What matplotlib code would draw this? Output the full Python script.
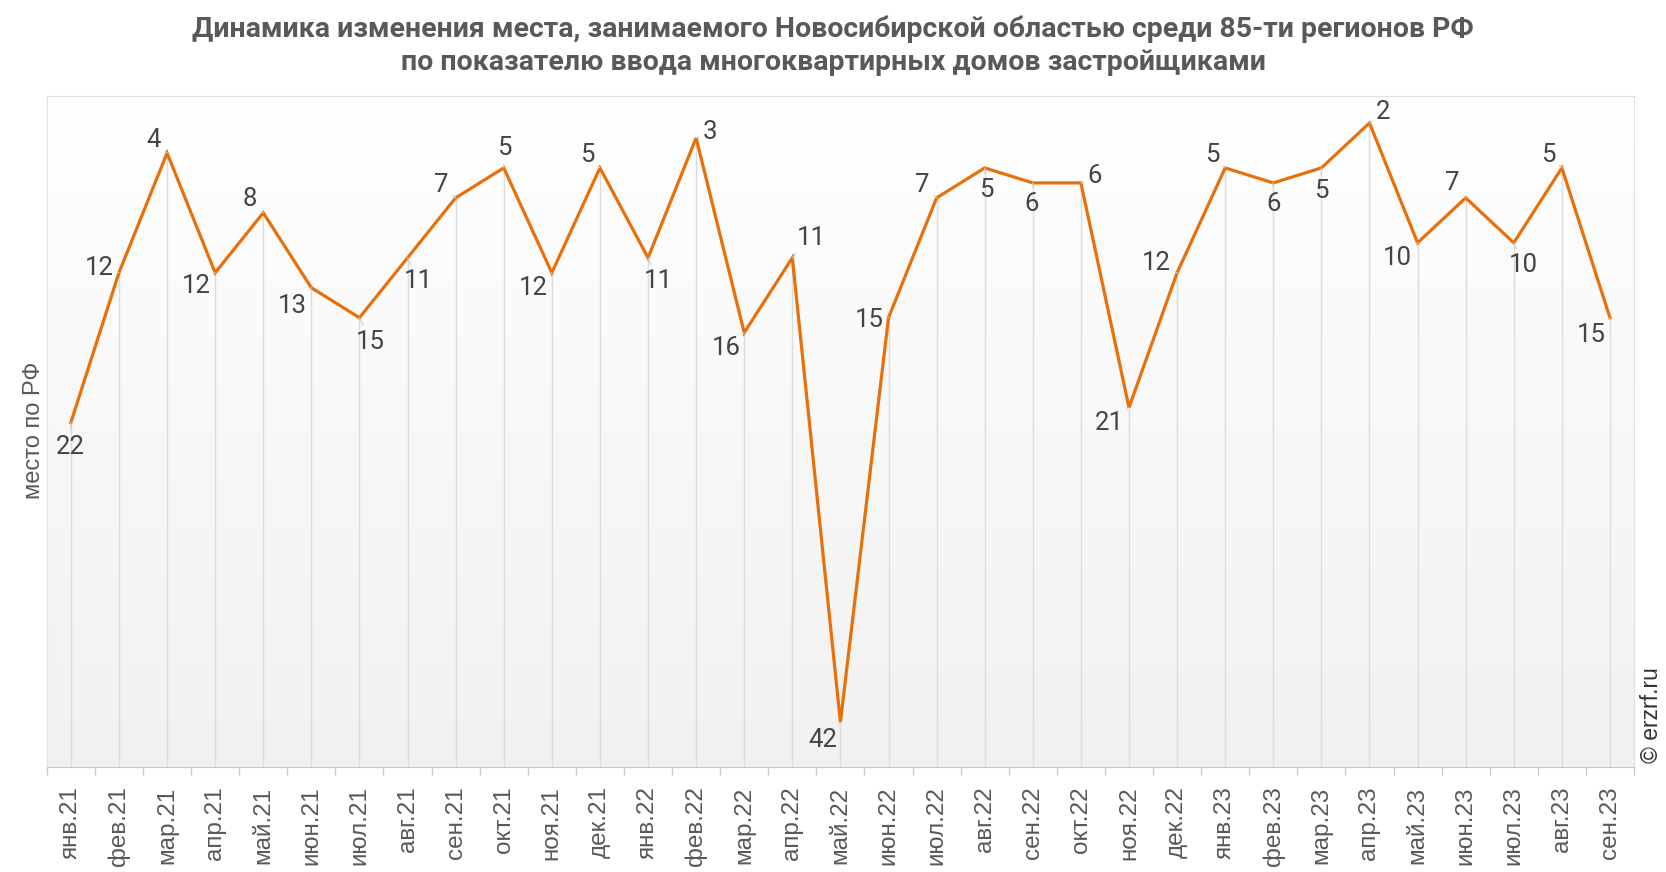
import numpy as np
import matplotlib
matplotlib.use("Agg")
import matplotlib.pyplot as plt
from matplotlib.colors import LinearSegmentedColormap

# data
months = ["янв.21", "фев.21", "мар.21", "апр.21", "май.21", "июн.21", "июл.21",
          "авг.21", "сен.21", "окт.21", "ноя.21", "дек.21", "янв.22", "фев.22",
          "мар.22", "апр.22", "май.22", "июн.22", "июл.22", "авг.22", "сен.22",
          "окт.22", "ноя.22", "дек.22", "янв.23", "фев.23", "мар.23", "апр.23",
          "май.23", "июн.23", "июл.23", "авг.23", "сен.23"]
rank = [22, 12, 4, 12, 8, 13, 15, 11, 7, 5, 12, 5, 11, 3, 16, 11, 42,
        15, 7, 5, 6, 6, 21, 12, 5, 6, 5, 2, 10, 7, 10, 5, 15]

# label offsets in pixels (dx, dy), just styling
label_offsets = [(0, -24), (-20, 5), (-13, 13), (-19, -13), (-13, 14), (-19, -18),
                 (11, -24), (11, -23), (-14, 13), (1, 20), (-19, -15), (-13, 13),
                 (10, -23), (14, 6), (-18, -15), (19, 20), (-18, -18), (-19, -2),
                 (-14, 13), (2, -22), (-1, -21), (14, 7), (-20, -15), (-21, 10),
                 (-13, 13), (0, -21), (0, -23), (14, 11), (-20, -15), (-13, 15),
                 (10, -22), (-14, 13), (-19, -17)]

x = np.arange(len(months))
ymax = 45

fig = plt.figure(figsize=(16.66, 8.72), dpi=100)
ax = fig.add_axes([0.0281, 0.1204, 0.9527, 0.770])

# background gradient, white at top
cmap = LinearSegmentedColormap.from_list("bg", ["#ffffff", "#f1f1f1"])
grad = np.linspace(0, 1, 256).reshape(-1, 1)
ax.imshow(grad, extent=[0, 1, 0, 1], origin="upper", transform=ax.transAxes,
          aspect="auto", cmap=cmap, zorder=0)

ax.vlines(x, rank, ymax, color="#dcdcdc", lw=1, zorder=1)
ax.plot(x, rank, color="#E8700A", lw=2.3, zorder=3, solid_joinstyle="miter")

for i, v in enumerate(rank):
    dx, dy = label_offsets[i]
    ax.annotate(str(v), (x[i], v), xytext=(dx, dy), textcoords="offset pixels",
                ha="center", va="center", fontsize=18.5, color="#444444",
                family="Roboto", zorder=4,
                arrowprops=dict(arrowstyle="-", color="#d0d0d0", lw=0.8,
                                shrinkA=1, shrinkB=0))

ax.set_xlim(-0.5, len(months) - 0.5)
ax.set_ylim(ymax, 0.17)

ax.set_xticks(x)
ax.set_xticklabels(months, rotation=90, fontsize=17.5, color="#595959",
                   family="Liberation Sans")
ax.set_xticks(np.arange(-0.5, len(months)), minor=True)
ax.tick_params(axis="x", which="major", length=0, pad=14)
ax.tick_params(axis="x", which="minor", length=6, color="#c8c8c8", width=1)
ax.set_yticks([])

for s in ["left", "top", "right"]:
    ax.spines[s].set_color("#e0e0e0")
ax.spines["bottom"].set_color("#c8c8c8")

fig.text(0.0205, 0.506, "место по РФ", rotation=90, ha="center", va="center",
         fontsize=17, color="#595959", family="Liberation Sans")

fig.text(0.5, 1 - 29 / 872, "Динамика изменения места, занимаемого Новосибирской областью среди 85-ти регионов РФ",
         ha="center", va="center", fontsize=20.5, fontweight="bold", color="#595959", family="Roboto")
fig.text(0.5, 1 - 62 / 872, "по показателю ввода многоквартирных домов застройщиками",
         ha="center", va="center", fontsize=20.5, fontweight="bold", color="#595959", family="Roboto")

fig.text(0.991, 1 - 715 / 872, "© erzrf.ru", rotation=90, ha="center", va="center",
         fontsize=16.5, color="#333333", family="Liberation Sans")

fig.savefig("out.png", dpi=100)
